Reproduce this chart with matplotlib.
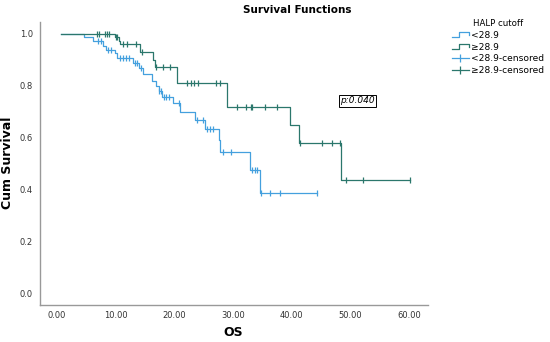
"""Kaplan-Meier survival curves by HALP cutoff"""

import matplotlib
matplotlib.use("Agg")
import matplotlib.pyplot as plt
from matplotlib.lines import Line2D
from matplotlib.legend_handler import HandlerBase

# time where both curves start
start_time = 0.7

# HALP < 28.9 : event times and survival after each event
low_event_t = [4.65, 6.2, 7.8, 8.3, 9.8, 10.3, 13.0, 13.9, 14.6, 16.2, 16.9,
               17.3, 17.9, 19.8, 21.0, 23.5, 25.2, 27.6, 27.8, 32.8, 34.5]
low_event_s = [0.99, 0.974, 0.955, 0.94, 0.925, 0.906, 0.887, 0.868, 0.846,
               0.82, 0.80, 0.78, 0.758, 0.733, 0.70, 0.668, 0.635, 0.59,
               0.546, 0.476, 0.386]
low_censor_t = [7.0, 7.5, 8.7, 9.2, 10.7, 11.2, 11.8, 12.3, 13.3, 13.6, 14.3,
                17.4, 17.7, 18.2, 18.6, 19.0, 20.7, 23.9, 24.8, 25.6, 26.1,
                26.6, 28.3, 29.6, 33.2, 33.7, 34.1, 34.7, 36.2, 38.0, 44.3]

# HALP >= 28.9
high_event_t = [9.9, 10.5, 10.8, 14.1, 16.4, 16.7, 20.4, 29.0, 39.7, 41.3, 48.3]
high_event_s = [0.987, 0.974, 0.96, 0.93, 0.90, 0.874, 0.81, 0.72, 0.649,
                0.579, 0.437]
high_censor_t = [6.8, 7.2, 8.2, 8.5, 8.8, 10.1, 10.3, 11.3, 11.9, 13.5, 14.5,
                 16.8, 18.1, 19.3, 22.1, 22.8, 23.3, 24.0, 27.1, 27.8, 30.7,
                 32.2, 33.0, 33.3, 35.4, 37.5, 41.4, 45.2, 46.8, 48.2, 49.2,
                 52.2, 60.1]

labels = ["<28.9", "\u226528.9", "<28.9-censored", "\u226528.9-censored"]
p_text = "p:0.040"

blue = "#44a0de"
green = "#2b776c"


def surv_at(t, ev_t, ev_s):
  """ survival level of a step curve at time t """
  s = 1.0
  for et, es in zip(ev_t, ev_s):
    if et <= t:
      s = es
  return s


def draw_curve(ax, ev_t, ev_s, cens_t, color):
  end = max(cens_t + ev_t)
  xs = [start_time] + ev_t + [end]
  ys = [1.0] + ev_s + [ev_s[-1]]
  ax.step(xs, ys, where="post", color=color, lw=0.9)
  cy = [surv_at(t, ev_t, ev_s) for t in cens_t]
  ax.plot(cens_t, cy, linestyle="none", marker="|", ms=5, mew=0.9, color=color)


class StepHandler(HandlerBase):
  """ little step icon like the SPSS legend """
  def create_artists(self, legend, orig_handle, xdescent, ydescent,
                     width, height, fontsize, trans):
    x0, y0 = -xdescent, -ydescent
    xs = [x0, x0 + 0.4 * width, x0 + 0.4 * width, x0 + width, x0 + width]
    ys = [y0 + 0.15 * height, y0 + 0.15 * height, y0 + 0.85 * height,
          y0 + 0.85 * height, y0 + 0.4 * height]
    line = Line2D(xs, ys, color=orig_handle.get_color(), lw=0.9,
                  transform=trans)
    return [line]


fig = plt.figure(figsize=(5.5, 3.42), dpi=100)
ax = fig.add_axes([40 / 550, 1 - 305 / 342, 388 / 550, 283 / 342])

draw_curve(ax, low_event_t, low_event_s, low_censor_t, blue)
draw_curve(ax, high_event_t, high_event_s, high_censor_t, green)

ax.set_xlim(-2.9, 63.2)
ax.set_ylim(-0.044, 1.046)
ax.set_xticks([0, 10, 20, 30, 40, 50, 60])
ax.set_xticklabels(["%.2f" % v for v in [0, 10, 20, 30, 40, 50, 60]])
ax.set_yticks([0, 0.2, 0.4, 0.6, 0.8, 1.0])
ax.set_yticklabels(["%.1f" % v for v in [0, 0.2, 0.4, 0.6, 0.8, 1.0]])
ax.tick_params(length=0, labelsize=6, labelcolor="#333333")
ax.tick_params(axis="y", pad=5)
ax.tick_params(axis="x", pad=4)
for side in ["top", "right"]:
  ax.spines[side].set_visible(False)
for side in ["left", "bottom"]:
  ax.spines[side].set_color("#999999")
  ax.spines[side].set_linewidth(1.0)

ax.text(51.2, 0.742, p_text, style="italic", fontsize=6.5, ha="center",
        va="center", bbox=dict(boxstyle="square,pad=0.15", fc="white",
                               ec="black", lw=0.7))

fig.text(297 / 550, 1 - 10 / 342, "Survival Functions", ha="center",
         va="center", fontsize=7.5, fontweight="bold")
fig.text(8 / 550, 1 - 163 / 342, "Cum Survival", rotation=90, ha="center",
         va="center", fontsize=9, fontweight="bold")
fig.text(233 / 550, 1 - 333 / 342, "OS", ha="center", va="center",
         fontsize=9, fontweight="bold")

handles = [Line2D([], [], color=blue), Line2D([], [], color=green),
           Line2D([], [], color=blue, marker="|", ms=6, mew=0.9, lw=0.9),
           Line2D([], [], color=green, marker="|", ms=6, mew=0.9, lw=0.9)]
fig.legend(handles, labels, title="HALP cutoff", loc="upper left",
           bbox_to_anchor=(452 / 550, 1 - 19 / 342), frameon=False,
           fontsize=6.6, title_fontsize=6.2, handlelength=1.8,
           handletextpad=0.3, labelspacing=0.3, borderaxespad=0,
           borderpad=0, numpoints=1,
           handler_map={handles[0]: StepHandler(), handles[1]: StepHandler()})

fig.savefig("out.png", dpi=100)
